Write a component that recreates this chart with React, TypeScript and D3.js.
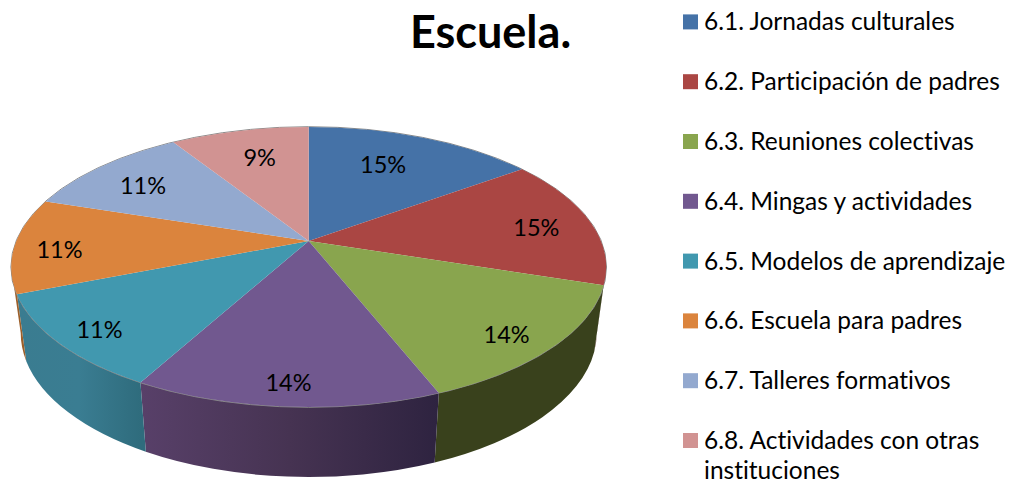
import React, { useMemo } from "react";
import * as d3 from "d3";

const categories = [
  "6.1. Jornadas culturales",
  "6.2. Participación de padres",
  "6.3. Reuniones colectivas",
  "6.4. Mingas y actividades",
  "6.5. Modelos de aprendizaje",
  "6.6. Escuela para padres",
  "6.7. Talleres formativos",
  "6.8. Actividades con otras instituciones",
];
const values = [15, 15, 14, 14, 11, 11, 11, 9];
const topColors = ["#4572A7", "#AA4643", "#89A54E", "#71588F", "#4198AF", "#DB843D", "#93A9CF", "#D19392"];
// Side wall gradient stops for the slices that show a wall
const wallStops: (string[] | null)[] = [
  null,
  ["#5a2422", "#4a1e1c"],
  ["#39411c", "#39411c"],
  ["#584069", "#463352", "#2e2340"],
  ["#3a7c90", "#3a7d92", "#2f6c7d"],
  ["#b06c30", "#9c5f2a"],
  null,
  null,
];

// Layout
const W = 1013, H = 484;
const TOP = { cx: 308.7, cy: 267, rx: 297.5, ry: 140 };
const BOTTOM = { cx: 308.7, cy: 333, rx: 288, ry: 144 };
const TILT = -0.186; // perspective shift of the pie's centre on the ellipse
const LABEL_RADIUS = 0.72;
const labelNudge: [number, number][] = [[-11, 0.5], [24, 1], [29, 20], [-5, 29], [-36, 17], [-38, 5], [-12, -1], [3, -1]];
const LEGEND_TOP = 30.4, LEGEND_STEP = 59.8, LEGEND_LINE = 29.5;

const xS = d3.scaleLinear().domain([-1, 1]).range([TOP.cx - TOP.rx, TOP.cx + TOP.rx]);
const yS = d3.scaleLinear().domain([-1, 1]).range([TOP.cy - TOP.ry, TOP.cy + TOP.ry]);

// Perspective projection of a point of the flat disc onto the drawn ellipse
function project(theta: number, rho = 1): [number, number] {
  const X = rho * Math.sin(theta), Y = -rho * Math.cos(theta);
  const d = 1 + TILT * Y;
  return [xS((X * Math.sqrt(1 - TILT * TILT)) / d), yS((Y + TILT) / d)];
}
function below(p: [number, number]): [number, number] {
  const dx = ((p[0] - TOP.cx) * BOTTOM.rx) / TOP.rx;
  const k = Math.sqrt(Math.max(0, 1 - (dx / BOTTOM.rx) ** 2));
  return [BOTTOM.cx + dx, BOTTOM.cy + BOTTOM.ry * k];
}

const FRONT_A = Math.acos(TILT); // where the rim turns from back to front
const FRONT_B = 2 * Math.PI - FRONT_A;

export default function App() {
  const arcs = useMemo(
    () => d3.pie<number>().sort(null).startAngle(0).endAngle(2 * Math.PI)(values),
    []
  );
  const font = "Lato, Carlito, Calibri, sans-serif";
  const centre = project(0, 0);

  return (
    <svg width={W} height={H} style={{ position: "absolute", left: 0, top: 0, display: "block", background: "#fff", fontVariantLigatures: "none" }}>
      <defs>
        {arcs.map((a, i) => {
          const st = wallStops[i];
          if (!st) return null;
          const s = Math.max(a.startAngle, FRONT_A), e = Math.min(a.endAngle, FRONT_B);
          const x1 = project(s)[0], x2 = project(e)[0];
          return (
            <linearGradient key={i} id={`wall${i}`} gradientUnits="userSpaceOnUse" x1={Math.min(x1, x2)} x2={Math.max(x1, x2)} y1={0} y2={0}>
              {st.map((c, j) => (
                <stop key={j} offset={j / (st.length - 1)} stopColor={c} />
              ))}
            </linearGradient>
          );
        })}
      </defs>

      {/* side walls */}
      {arcs.map((a, i) => {
        if (!wallStops[i]) return null;
        const s = Math.max(a.startAngle, FRONT_A), e = Math.min(a.endAngle, FRONT_B);
        if (e <= s) return null;
        const p1 = project(s), p2 = project(e);
        const q1 = below(p1), q2 = below(p2);
        const d = `M${p1}A${TOP.rx},${TOP.ry} 0 0 1 ${p2}L${q2}A${BOTTOM.rx},${BOTTOM.ry} 0 0 0 ${q1}Z`;
        return <path key={i} d={d} fill={`url(#wall${i})`} />;
      })}

      {/* top face */}
      <ellipse cx={TOP.cx} cy={TOP.cy} rx={TOP.rx + 0.3} ry={TOP.ry + 0.3} fill="none" stroke="#8a8a8a" strokeWidth={1} />
      {arcs.map((a, i) => {
        const p1 = project(a.startAngle), p2 = project(a.endAngle);
        const d = `M${centre}L${p1}A${TOP.rx},${TOP.ry} 0 0 1 ${p2}Z`;
        return <path key={i} d={d} fill={topColors[i]} />;
      })}

      {/* data labels */}
      {arcs.map((a, i) => {
        const [x, y] = project((a.startAngle + a.endAngle) / 2, LABEL_RADIUS);
        return (
          <text key={i} x={x + labelNudge[i][0]} y={y + labelNudge[i][1]} textAnchor="middle" dominantBaseline="central" fontFamily={font} fontSize={23.5} fill="#000">
            {`${a.value}%`}
          </text>
        );
      })}

      {/* title */}
      <text x={490.5} y={48} textAnchor="middle" fontFamily={font} fontWeight={700} fontSize={45} fill="#000">
        Escuela.
      </text>

      {/* legend */}
      {categories.map((c, i) => {
        const base = LEGEND_TOP + i * LEGEND_STEP;
        const lines = i === 7 ? ["6.8. Actividades con otras", "instituciones"] : [c];
        return (
          <g key={i}>
            <rect x={683} y={base - 16} width={15} height={15} fill={topColors[i]} />
            {lines.map((l, j) => (
              <text key={j} x={704} y={base + j * LEGEND_LINE} fontFamily={font} fontSize={24.5} fill="#000">
                {l}
              </text>
            ))}
          </g>
        );
      })}
    </svg>
  );
}
